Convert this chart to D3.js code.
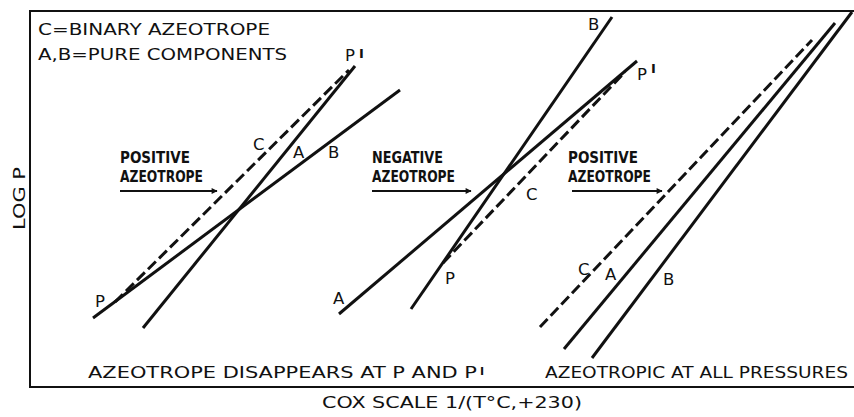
<!DOCTYPE html>
<html><head><meta charset="utf-8">
<script src="https://cdn.jsdelivr.net/npm/d3@7"></script>
<style>html,body{margin:0;padding:0;background:#fff;overflow:hidden;} svg{display:block;}</style>
</head><body>
<script>
// ---- data (logical units: x = Cox scale, y = log P) ----
const panelTitles = [["POSITIVE","AZEOTROPE"],["NEGATIVE","AZEOTROPE"],["POSITIVE","AZEOTROPE"]];
const lineNames = ["A","B","C"];
const panel1X = [[113,325],[63,370],[85,319]];
const panel1Y = [[59,321],[69,297],[85,317]];
const panel2X = [[309,607],[381,582],[413,595]];
const panel2Y = [[73,326],[78,370],[124,315]];
const panel3X = [[534,805],[562,822],[510,782]];
const panel3Y = [[38,364],[29,375],[60,347]];
const labelText = ["C","A","B","P","P", "B","P","C","P","A", "C","A","B"];
const labelX = [223,263,298,315,65, 558,607,496,415,303, 548,575,633];
const labelY = [237,229,229,326,80, 357,307,187,103,83, 112,107,102];
const primeX = [329,621];
const primeY = [329,314];
const titleX = [90,342,538];
const arrowX = [[90,187],[342,441],[542,632]];
const arrowY = 196;
const legendLines = ["C=BINARY AZEOTROPE","A,B=PURE COMPONENTS"];
const bottomNotes = ["AZEOTROPE DISAPPEARS AT P AND P","AZEOTROPIC AT ALL PRESSURES"];
const xTitle = "COX SCALE 1/(T°C,+230)";
const yTitle = "LOG P";

const W = 854, H = 417;
const x = d3.scaleLinear().domain([0,824]).range([30,854]);
const y = d3.scaleLinear().domain([0,376]).range([387,11]);

const svg = d3.select("body").append("svg").attr("width",W).attr("height",H)
  .style("font-family","'DejaVu Sans', sans-serif");

const defs = svg.append("defs");
defs.append("marker").attr("id","arr").attr("viewBox","0 0 10 10").attr("refX",9).attr("refY",5)
  .attr("markerWidth",9).attr("markerHeight",6).attr("markerUnits","userSpaceOnUse").attr("orient","auto")
  .append("path").attr("d","M0,0L10,5L0,10Z").attr("fill","#111");

const lineGen = d3.line().x(d=>x(d[0])).y(d=>y(d[1]));

// frame: left, top and bottom edges only (open on the right)
const frameEdges = [[[0,0],[0,376]],[[0,376],[824,376]],[[0,0],[824,0]]];
frameEdges.forEach(e=>{
  svg.append("path").attr("d",lineGen(e)).attr("fill","none")
    .attr("stroke","#111").attr("stroke-width",2).attr("stroke-linecap","square");
});

// lines
[[panel1X,panel1Y],[panel2X,panel2Y],[panel3X,panel3Y]].forEach(([px,py])=>{
  lineNames.forEach((n,i)=>{
    svg.append("path").attr("d",lineGen([[px[i][0],py[i][0]],[px[i][1],py[i][1]]]))
      .attr("fill","none").attr("stroke","#111").attr("stroke-width",3)
      .attr("stroke-linecap","butt")
      .attr("stroke-dasharray", n==="C" ? "11,4.5" : null);
  });
});

// labels
labelText.forEach((t,i)=>{
  svg.append("text").attr("x",x(labelX[i])).attr("y",y(labelY[i]))
    .attr("font-size",16.5).attr("fill","#111").text(t);
});
primeX.forEach((px,i)=>{
  svg.append("text").attr("x",x(px)).attr("y",y(primeY[i]))
    .attr("font-size",13).attr("font-weight","bold").attr("fill","#111").text("I");
});

// panel titles + arrows
panelTitles.forEach((lines,i)=>{
  lines.forEach((t,j)=>{
    svg.append("text").attr("x",x(titleX[i])).attr("y",y(j===0?224:205))
      .attr("font-family","'DejaVu Sans Condensed','DejaVu Sans',sans-serif")
      .attr("font-weight","bold").attr("font-size",16.5).attr("fill","#111")
      .attr("textLength", j===0 ? (t==="NEGATIVE"?71:70) : 83)
      .attr("lengthAdjust","spacingAndGlyphs").text(t);
  });
  svg.append("line").attr("x1",x(arrowX[i][0])).attr("x2",x(arrowX[i][1]))
    .attr("y1",y(arrowY)).attr("y2",y(arrowY))
    .attr("stroke","#111").attr("stroke-width",1.8).attr("marker-end","url(#arr)");
});

// legend
svg.append("text").attr("x",38).attr("y",35).attr("font-size",16).attr("fill","#111")
  .attr("textLength",232).attr("lengthAdjust","spacingAndGlyphs").text(legendLines[0]);
svg.append("text").attr("x",38).attr("y",60).attr("font-size",16).attr("fill","#111")
  .attr("textLength",249).attr("lengthAdjust","spacingAndGlyphs").text(legendLines[1]);

// bottom notes
svg.append("text").attr("x",88).attr("y",378).attr("font-size",15).attr("fill","#111")
  .attr("textLength",389).attr("lengthAdjust","spacingAndGlyphs").text(bottomNotes[0]);
svg.append("text").attr("x",480).attr("y",375).attr("font-size",11).attr("font-weight","bold").attr("fill","#111").text("I");
svg.append("text").attr("x",545).attr("y",378).attr("font-size",15).attr("fill","#111")
  .attr("textLength",303).attr("lengthAdjust","spacingAndGlyphs").text(bottomNotes[1]);

// axis titles
svg.append("text").attr("x",322).attr("y",408).attr("font-size",15).attr("fill","#111")
  .attr("textLength",260).attr("lengthAdjust","spacingAndGlyphs").text(xTitle);
svg.append("text").attr("transform","translate(25,230) rotate(-90)").attr("font-size",16).attr("fill","#111")
  .attr("textLength",63).attr("lengthAdjust","spacingAndGlyphs").text(yTitle);
</script>
</body></html>
